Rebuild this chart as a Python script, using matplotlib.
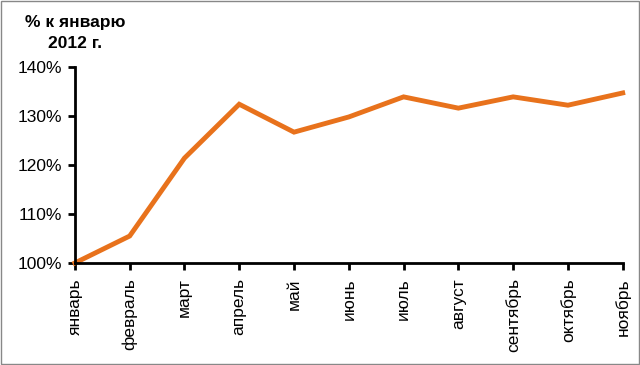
import matplotlib
matplotlib.use("Agg")
import matplotlib.pyplot as plt
from matplotlib.patches import Rectangle

months = ["январь", "февраль", "март", "апрель", "май", "июнь",
          "июль", "август", "сентябрь", "октябрь", "ноябрь"]
values = [100.0, 105.5, 121.4, 132.4, 126.7, 129.8,
          133.9, 131.6, 133.9, 132.2, 134.7]
yticks = [100, 110, 120, 130, 140]

plt.rcParams["font.family"] = ["Liberation Sans", "DejaVu Sans"]

fig = plt.figure(figsize=(6.4, 3.65), dpi=100)
ax = fig.add_axes([0.117, 0.2795, 0.856, 0.537])

x = list(range(len(months)))
ax.plot(x, values, color="#E8721C", lw=3.5, solid_joinstyle="miter", clip_on=False)

ax.set_xlim(0, len(months) - 1)
ax.set_ylim(100, 140)
ax.set_yticks(yticks)
ax.set_yticklabels([f"{v}%" for v in yticks], fontsize=12.5)
ax.set_xticks(x)
ax.set_xticklabels(months, rotation=90, fontsize=12.5)
ax.tick_params(axis="both", direction="out", length=5, width=2, color="black")
ax.tick_params(axis="y", pad=4)
ax.tick_params(axis="x", pad=6)

for s in ["top", "right"]:
    ax.spines[s].set_visible(False)
for s in ["left", "bottom"]:
    ax.spines[s].set_linewidth(2)

fig.text(0.117, 0.91, "% к январю\n2012 г.", ha="center", va="center",
         fontsize=12.5, fontweight="bold", linespacing=1.45)

fig.patches.append(Rectangle((0.001, 0.002), 0.997, 0.995, transform=fig.transFigure,
                             fill=False, edgecolor="#888888", lw=1))

fig.savefig("out.png", dpi=100)
